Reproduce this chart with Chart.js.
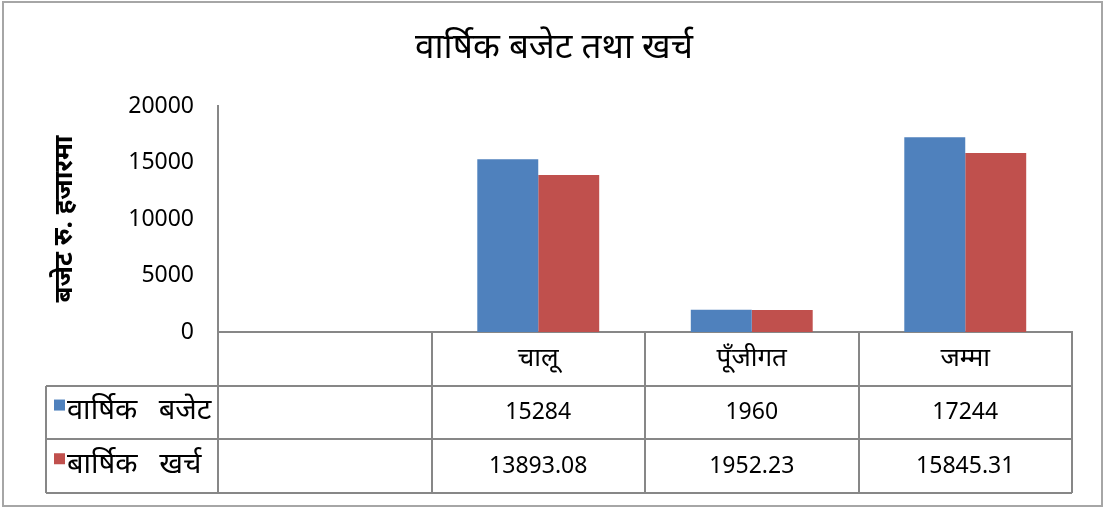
<!DOCTYPE html>
<html><head><meta charset="utf-8">
<script src="https://cdn.jsdelivr.net/npm/chart.js@4"></script>
<style>html,body{margin:0;padding:0;background:#fff}#wrap{width:1108px;height:509px}</style>
</head><body><div id="wrap"><canvas id="c" width="1108" height="509"></canvas></div>
<script>
const categories = ['', 'चालू', 'पूँजीगत', 'जम्मा'];
const seriesNames = ['वार्षिक बजेट', 'बार्षिक खर्च'];
const budget = [null, 15284, 1960, 17244];
const expense = [null, 13893.08, 1952.23, 15845.31];
const yTicks = [0, 5000, 10000, 15000, 20000];
const chartTitle = 'वार्षिक बजेट तथा खर्च';
const yTitle = 'बजेट रु. हजारमा';

const BLUE = '#4F81BD', RED = '#C0504D', GRID = '#878787';
const FONT = "'Noto Sans', Lato, sans-serif";

const borderPlugin = {
  id: 'outerBorder',
  beforeDraw(chart) {
    const ctx = chart.ctx;
    ctx.save();
    ctx.fillStyle = '#fff';
    ctx.fillRect(0, 0, chart.width, chart.height);
    ctx.strokeStyle = '#a6a6a6';
    ctx.lineWidth = 2;
    ctx.strokeRect(3, 2, 1099, 504);
    ctx.restore();
  }
};

const tablePlugin = {
  id: 'dataTable',
  afterDraw(chart) {
    const { ctx, chartArea: a, scales: { x } } = chart;
    const n = categories.length;
    const cw = (a.right - a.left) / n;
    const rowH = 53.7;
    const top = a.bottom;
    const legendLeft = 46;
    const series = [budget, expense];
    const colors = [BLUE, RED];
    ctx.save();
    ctx.strokeStyle = GRID;
    ctx.lineWidth = 2;
    ctx.beginPath();
    for (let r = 1; r <= 3; r++) {
      const y = Math.round(top + r * rowH);
      ctx.moveTo(legendLeft, y);
      ctx.lineTo(a.right, y);
    }
    for (let i = 0; i <= n; i++) {
      const xx = Math.round(a.left + i * cw);
      ctx.moveTo(xx, top);
      ctx.lineTo(xx, Math.round(top + 3 * rowH));
    }
    ctx.moveTo(legendLeft, Math.round(top + rowH));
    ctx.lineTo(legendLeft, Math.round(top + 3 * rowH));
    ctx.stroke();

    ctx.fillStyle = '#000';
    ctx.textAlign = 'center';
    ctx.textBaseline = 'middle';
    ctx.font = "26px " + FONT;
    categories.forEach((c, i) => {
      ctx.fillText(c, x.getPixelForValue(i), top + rowH / 2);
    });
    ctx.font = "23px " + FONT;
    series.forEach((s, r) => {
      const cy = top + (r + 1.5) * rowH;
      s.forEach((v, i) => {
        if (v === null) return;
        ctx.fillText(String(v), x.getPixelForValue(i), cy);
      });
    });
    ctx.textAlign = 'left';
    ctx.font = "29px " + FONT;
    if ('wordSpacing' in ctx) ctx.wordSpacing = '14px';
    seriesNames.forEach((name, r) => {
      const cy = top + (r + 1.5) * rowH;
      ctx.fillStyle = colors[r];
      ctx.fillRect(54, cy - 13, 11, 11);
      ctx.fillStyle = '#000';
      ctx.fillText(name, 67, cy - 2);
    });
    ctx.restore();
  }
};

new Chart(document.getElementById('c'), {
  type: 'bar',
  data: {
    labels: categories,
    datasets: [
      { label: seriesNames[0], data: budget, backgroundColor: BLUE },
      { label: seriesNames[1], data: expense, backgroundColor: RED }
    ]
  },
  options: {
    responsive: false,
    animation: false,
    devicePixelRatio: 1,
    layout: { padding: { left: 36, right: 36, top: 0, bottom: 177 } },
    categoryPercentage: 0.571,
    barPercentage: 1,
    plugins: {
      legend: { display: false },
      tooltip: { enabled: false },
      title: {
        display: true,
        text: chartTitle,
        color: '#000',
        font: { family: FONT, size: 35, weight: 'normal', lineHeight: 1.2 },
        padding: { top: 27, bottom: 37 }
      }
    },
    scales: {
      x: {
        ticks: { display: false },
        grid: { display: false, drawTicks: false },
        border: { display: true, color: GRID, width: 2 }
      },
      y: {
        min: 0, max: 20000,
        afterBuildTicks(scale) { scale.ticks = yTicks.map(v => ({ value: v })); },
        afterFit(scale) { scale.width = 182; },
        ticks: {
          color: '#000', padding: 24,
          font: { family: FONT, size: 23 },
          callback: v => String(v)
        },
        grid: { display: false, drawTicks: false },
        border: { display: true, color: GRID, width: 2 },
        title: {
          display: true,
          text: yTitle,
          color: '#000',
          font: { family: FONT, size: 26, weight: 'bold' },
          padding: { top: 13, bottom: 0 }
        }
      }
    }
  },
  plugins: [borderPlugin, tablePlugin]
});
</script>
</body></html>
